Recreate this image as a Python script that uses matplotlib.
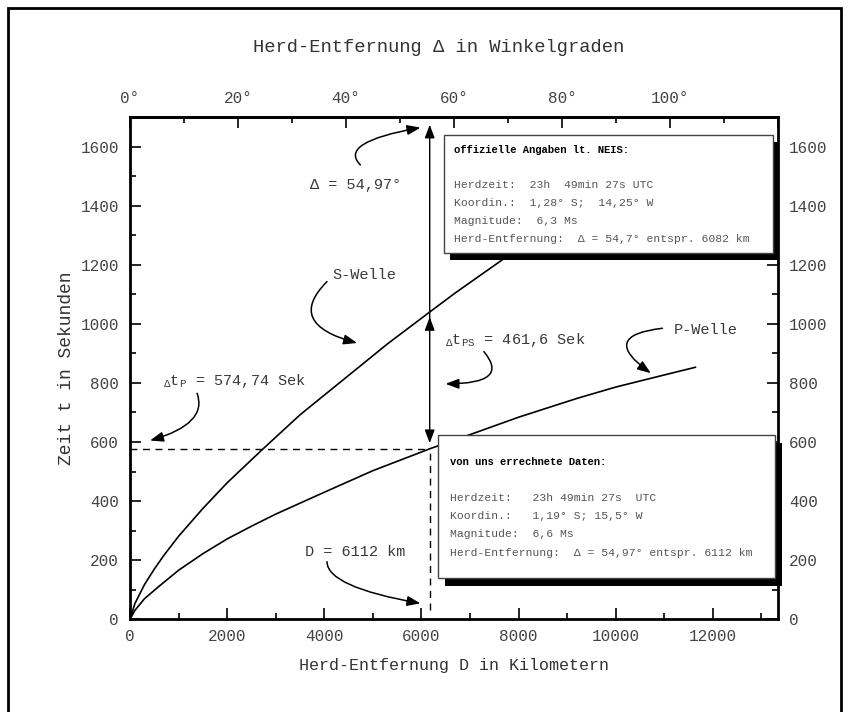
import matplotlib.pyplot as plt
from matplotlib.patches import Rectangle
from matplotlib.ticker import MultipleLocator, FixedLocator, FuncFormatter

plt.rcParams['font.family'] = ['Liberation Mono', 'DejaVu Sans Mono']
plt.rcParams['mathtext.fontset'] = 'custom'
plt.rcParams['mathtext.rm'] = 'Liberation Mono'
plt.rcParams['mathtext.it'] = 'Liberation Mono'

# travel-time curves (km, seconds)
s_km = [0, 100, 300, 500, 700, 1000, 1500, 2000, 2740, 3500, 4400, 5300, 6170, 6700, 7650, 8300]
s_t = [0, 53, 118, 170, 217, 281, 375, 462, 577, 692, 812, 932, 1040, 1105, 1215, 1288]
p_km = [0, 100, 300, 600, 1000, 1500, 2000, 2500, 3000, 4000, 5000, 6170, 7000, 8000, 9210, 10000, 11000, 11640]
p_t = [0, 30, 70, 112, 166, 222, 272, 315, 356, 430, 503, 577, 625, 684, 748, 786, 827, 853]

# marker lines
d_line = 6170       # vertical line (D = 6112 km)
tp_line = 574.74    # horizontal dashed line (P arrival)
s_at_d = 1023
p_at_d = 596
top_at_d = 1674

km_per_deg = 111.17
deg_ticks = [0, 20, 40, 60, 80, 100, 120]

box1_head = "offizielle Angaben lt. NEIS:"
box1_lines = ["Herdzeit:  23h  49min 27s UTC",
              "Koordin.:  1,28° S;  14,25° W",
              "Magnitude:  6,3 Ms",
              "Herd-Entfernung:  Δ = 54,7° entspr. 6082 km"]
box2_head = "von uns errechnete Daten:"
box2_lines = ["Herdzeit:   23h 49min 27s  UTC",
              "Koordin.:   1,19° S; 15,5° W",
              "Magnitude:  6,6 Ms",
              "Herd-Entfernung:  Δ = 54,97° entspr. 6112 km"]

W, H = 851, 712
def fx(px):
    return px / W
def fy(py):
    return 1 - py / H

fig = plt.figure(figsize=(W / 100, H / 100), dpi=100)
ax = fig.add_axes([fx(130), fy(619.3), (778 - 130) / W, (619.3 - 117) / H])
ax.set_xlim(0, 120 * km_per_deg)
ax.set_ylim(0, 1700)

ax.plot(s_km, s_t, color='black', lw=1.2, zorder=3)
ax.plot(p_km, p_t, color='black', lw=1.2, zorder=3)

# dashed guide lines
ax.plot([0, d_line], [tp_line, tp_line], color='black', lw=1, ls=(0, (5, 4)))
ax.plot([d_line, d_line], [30, tp_line], color='black', lw=1, ls=(0, (5, 4)))

head = '-|>,head_length=0.8,head_width=0.3'
ax.annotate('', xy=(d_line, top_at_d), xytext=(d_line, s_at_d - 10),
            arrowprops=dict(arrowstyle=head, color='black', lw=1, mutation_scale=10, shrinkA=0, shrinkB=0))
ax.annotate('', xy=(d_line, s_at_d), xytext=(d_line, p_at_d),
            arrowprops=dict(arrowstyle='<|-|>,head_length=0.8,head_width=0.3', color='black', lw=1,
                            mutation_scale=10, shrinkA=0, shrinkB=0))

# labels with curved arrows
tcol = '#3a3a3a'
ax.text(3700, 1471, 'Δ = 54,97°', fontsize=11, color=tcol, va='center')
ax.text(4160, 1166, 'S-Welle', fontsize=11, color=tcol, va='center')
ax.text(11200, 980, 'P-Welle', fontsize=11, color=tcol, va='center')
ax.text(6495, 946, r'${}_{\Delta}\mathrm{t}_{\mathrm{PS}}$ = 461,6 Sek', fontsize=11, color=tcol, va='center')
ax.text(680, 807, r'${}_{\Delta}\mathrm{t}_{\mathrm{P}}$ = 574,74 Sek', fontsize=11, color=tcol, va='center')
ax.text(3608, 229, 'D = 6112 km', fontsize=11, color=tcol, va='center')

def curved(start, end, style):
    ax.annotate('', xy=end, xytext=start,
                arrowprops=dict(arrowstyle=head, color='black', lw=1.1, mutation_scale=10,
                                shrinkA=0, shrinkB=0, connectionstyle=style))

curved((4742, 1538), (5980, 1664), 'angle3,angleA=135,angleB=10')
curved((4056, 1143), (4674, 935), 'angle3,angleA=45,angleB=-15')
curved((10962, 985), (10722, 833), 'arc3,rad=1.3')
curved((7285, 906), (6495, 797), 'angle3,angleA=-50,angleB=0')
curved((1381, 765), (412, 605), 'angle3,angleA=-70,angleB=16')
curved((4056, 195), (5979, 54), 'angle3,angleA=90,angleB=-10')

# axes styling
for sp in ax.spines.values():
    sp.set_linewidth(2)
ax.xaxis.set_major_locator(MultipleLocator(2000))
ax.xaxis.set_minor_locator(MultipleLocator(1000))
ax.yaxis.set_major_locator(MultipleLocator(200))
ax.yaxis.set_minor_locator(MultipleLocator(100))
ax.tick_params(which='both', direction='in', width=1.2, labelsize=11.5, labelcolor='#444444',
               left=True, right=True, labelright=True, bottom=True)
ax.tick_params(which='major', length=8)
ax.tick_params(which='minor', length=4)
ax.tick_params(axis='y', pad=8)
ax.tick_params(axis='x', pad=7)
ax.set_xlabel('Herd-Entfernung D in Kilometern', fontsize=12, color='#333333', labelpad=10)
ax.set_ylabel('Zeit t in Sekunden', fontsize=13, color='#333333', labelpad=4)

top = ax.secondary_xaxis('top', functions=(lambda k: k / km_per_deg, lambda d: d * km_per_deg))
top.xaxis.set_major_locator(FixedLocator(deg_ticks))
top.xaxis.set_minor_locator(MultipleLocator(10))
top.xaxis.set_major_formatter(FuncFormatter(lambda v, p: '' if v > 110 else f'{v:.0f}°'))
top.tick_params(which='both', direction='in', width=1.2, labelsize=11.5, labelcolor='#444444', pad=8)
top.tick_params(which='major', length=8)
top.tick_params(which='minor', length=4)
top.spines['top'].set_linewidth(2)
fig.text(fx(439), fy(47), 'Herd-Entfernung Δ in Winkelgraden', fontsize=13.5, color='#333333',
         ha='center', va='center')

# info boxes with shadows
def info_box(x0, y0, x1, y1, dx, dy, header, lines, tx, ty_head, ty_lines):
    fig.add_artist(Rectangle((fx(x0 + dx), fy(y1 + dy)), (x1 - x0) / W, (y1 - y0) / H,
                             transform=fig.transFigure, facecolor='black', edgecolor='none', zorder=5))
    fig.add_artist(Rectangle((fx(x0), fy(y1)), (x1 - x0) / W, (y1 - y0) / H,
                             transform=fig.transFigure, facecolor='white', edgecolor='#444444', lw=1, zorder=6))
    fig.text(fx(tx), fy(ty_head), header, fontsize=7.6, fontweight='bold', color='black',
             va='center', zorder=7)
    for line, ty in zip(lines, ty_lines):
        fig.text(fx(tx), fy(ty), line, fontsize=8.2, color='#555555', va='center', zorder=7)

info_box(444, 135, 773, 253, 6, 7, box1_head, box1_lines, 454, 150, [185, 203, 221, 239])
info_box(438, 435, 775, 578, 7, 8, box2_head, box2_lines, 450, 462, [498, 516, 534, 553])

# outer frame
fig.add_artist(Rectangle((fx(8), fy(714)), (841 - 8) / W, (714 - 8) / H, transform=fig.transFigure,
                         fill=False, edgecolor='black', lw=2, zorder=10))

fig.savefig('out.png', dpi=100)
